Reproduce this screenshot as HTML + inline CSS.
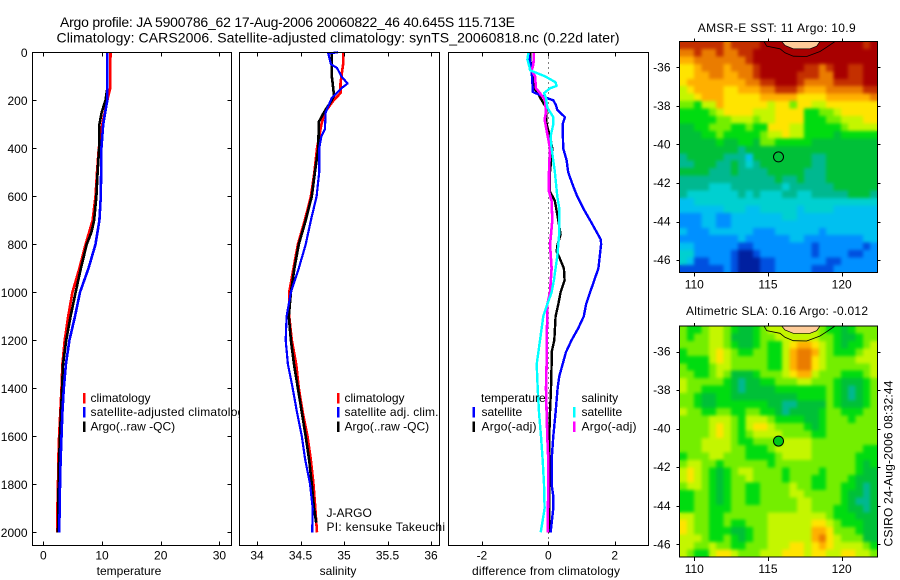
<!DOCTYPE html>
<html lang="en">
<head>
<meta charset="utf-8">
<title>Argo profile</title>
<style>
html,body{margin:0;padding:0;background:#fff;width:900px;height:580px;overflow:hidden}
svg{display:block}
text{font-family:"Liberation Sans",sans-serif;font-size:12px;fill:#000}
.t{font-size:14px}
.c{text-anchor:middle}
</style>
</head>
<body>
<svg id="chart" width="900" height="580" viewBox="0 0 900 580" xmlns="http://www.w3.org/2000/svg">
<defs>
<filter id="soften" x="0" y="0" width="100%" height="100%" color-interpolation-filters="sRGB">
<feGaussianBlur in="SourceGraphic" stdDeviation="1.7" result="b"/>
<feMerge><feMergeNode in="SourceGraphic"/><feMergeNode in="b"/></feMerge>
</filter>
</defs>
<rect x="0" y="0" width="900" height="580" fill="#fff"/>
<text class="t" x="60" y="27" textLength="455">Argo profile: JA 5900786_62 17-Aug-2006 20060822_46 40.645S 115.713E</text>
<text class="t" x="56.5" y="42.5" textLength="563">Climatology: CARS2006. Satellite-adjusted climatology: synTS_20060818.nc (0.22d later)</text>
<g id="p1"></g>
<g>
<rect x="83" y="393" width="2.5" height="10.5" fill="#f00"/>
<rect x="83" y="407" width="2.5" height="10.5" fill="#00f"/>
<rect x="83" y="421.5" width="2.5" height="10.5" fill="#000"/>
<text x="90.5" y="402">climatology</text>
<text x="90.5" y="416" textLength="160">satellite-adjusted climatology</text>
<text x="90.5" y="430.5">Argo(..raw -QC)</text>
</g>
<g id="p2"></g>
<g>
<rect x="337" y="393" width="2.5" height="10.5" fill="#f00"/>
<rect x="337" y="407" width="2.5" height="10.5" fill="#00f"/>
<rect x="337" y="421.5" width="2.5" height="10.5" fill="#000"/>
<text x="344.5" y="402">climatology</text>
<text x="344.5" y="416" textLength="94">satellite adj. clim.</text>
<text x="344.5" y="430.5">Argo(..raw -QC)</text>
<text x="326.5" y="517">J-ARGO</text>
<text x="326.5" y="531" textLength="118.5">PI: kensuke Takeuchi</text>
</g>
<g id="p3"></g>
<g>
<rect x="472.5" y="407" width="2.5" height="10.5" fill="#00f"/>
<rect x="472.5" y="421.5" width="2.5" height="10.5" fill="#000"/>
<rect x="573" y="407" width="2.5" height="10.5" fill="#0ff"/>
<rect x="573" y="421.5" width="2.5" height="10.5" fill="#f0f"/>
<text x="481" y="402">temperature</text>
<text x="481.5" y="416">satellite</text>
<text x="481.5" y="430.5" textLength="55">Argo(-adj)</text>
<text x="581.5" y="402">salinity</text>
<text x="581.5" y="416">satellite</text>
<text x="581.5" y="430.5" textLength="55">Argo(-adj)</text>
</g>
<text class="c" x="129" y="575">temperature</text>
<text class="c" x="338" y="575">salinity</text>
<text class="c" x="546" y="575" textLength="148">difference from climatology</text>
<text class="c" x="776.7" y="32" textLength="158">AMSR-E SST: 11 Argo: 10.9</text>
<text class="c" x="777" y="315" textLength="182">Altimetric SLA: 0.16 Argo: -0.012</text>
<g id="m1"></g>
<g id="m2"></g>
<text transform="translate(892.5,546.5) rotate(-90)" textLength="166">CSIRO 24-Aug-2006 08:32:44</text>
</svg>
<script>
const depthTicks = [0,200,400,600,800,1000,1200,1400,1600,1800,2000];
const tempTicks = [0,10,20,30];
const salTicks = [34,34.5,35,35.5,36];
const diffTicks = [-2,0,2];
const lonTicks = [110,115,120];
const latTicks = [-36,-38,-40,-42,-44,-46];

const tempClimDepth = [0,150,200,300,400,500,600,700,800,900,1000,1100,1200,1300,1400,1500,1600,1700,1800,1900,2000];
const tempClim = [11.45,11.4,10.9,10.05,9.45,9.15,8.9,8.4,7.2,6.15,4.95,4.25,3.65,3.25,3.1,2.9,2.7,2.55,2.5,2.4,2.4];
const tempArgoDepth = [0,150,200,250,300,400,500,600,700,750,800,900,1000,1100,1200,1300,1400,1500,1600,1700,1800,1900,2000];
const tempArgo = [10.9,10.9,10.6,9.95,9.55,9.5,9.25,9.05,8.65,8.2,7.4,6.4,5.5,4.65,3.9,3.35,3.2,3,2.85,2.7,2.6,2.55,2.5];
const tempSatDepth = [0,150,200,250,300,400,500,600,700,800,900,1000,1100,1200,1300,1400,1500,1600,1700,1800,1900,2000];
const tempSat = [10.9,10.9,10.9,10.55,10.2,9.9,9.85,9.8,9.55,8.9,7.7,6.25,5.4,4.45,3.85,3.5,3.25,3.1,2.95,2.85,2.8,2.7];

const salClimDepth = [0,50,100,130,170,200,250,300,400,500,600,700,800,900,1000,1100,1200,1300,1400,1500,1600,1700,1800,1900,2000];
const salClim = [34.99,34.99,34.97,34.96,34.96,34.88,34.78,34.74,34.69,34.66,34.62,34.55,34.47,34.42,34.37,34.37,34.4,34.45,34.48,34.525,34.58,34.62,34.65,34.67,34.69];
const salArgoDepth = [0,100,130,180,200,250,290,400,500,600,700,800,900,1000,1100,1200,1300,1400,1500,1600,1700,1800,1900,1960];
const salArgo = [34.86,34.86,34.87,34.885,34.86,34.77,34.71,34.705,34.665,34.63,34.56,34.48,34.43,34.39,34.365,34.39,34.425,34.47,34.515,34.56,34.6,34.63,34.655,34.68];
const salSatDepth = [0,5,50,65,100,130,150,190,250,320,350,400,500,600,700,800,900,1000,1100,1200,1300,1400,1500,1600,1700,1800,1900,2000];
const salSat = [34.93,34.82,34.85,34.92,34.97,35.04,34.97,34.86,34.79,34.78,34.74,34.715,34.715,34.685,34.62,34.56,34.48,34.39,34.34,34.33,34.355,34.41,34.46,34.515,34.555,34.61,34.64,34.635];

const diffTempSatDepth = [0,50,100,150,165,190,200,220,240,270,300,400,450,500,550,600,650,700,750,780,800,900,1000,1050,1100,1150,1200,1250,1300,1350,1400,1500,1600,1700,1800,1850,1900,2000];
const diffTempSat = [-.6,-.53,-.49,-.47,-.47,-.05,.15,.23,.27,.5,.43,.45,.55,.6,.73,.87,1.05,1.26,1.46,1.58,1.59,1.51,1.26,1.14,1.07,.9,.7,.53,.43,.33,.28,.22,.15,.1,.1,.15,.15,.07];
const diffTempArgoDepth = [0,50,100,150,170,200,230,300,350,400,500,580,620,700,760,800,830,860,900,950,1000,1050,1100,1200,1250,1300,1400,1500,1600,2000];
const diffTempArgo = [-.55,-.53,-.47,-.43,-.32,-.2,-.07,-.05,.05,.12,.05,.05,.2,.3,.37,.28,.25,.35,.47,.49,.37,.3,.22,.18,.1,.1,.08,.05,.03,.03];
const diffSalSatDepth = [0,30,60,75,100,125,140,150,170,190,230,270,300,350,400,500,600,650,750,850,950,1000,1050,1100,1200,1300,1400,1500,1600,1700,1800,1900,1950,2000];
const diffSalSat = [-.6,-.63,-.57,-.55,-.1,.22,.25,.05,-.13,-.07,-.03,.15,.15,.07,.1,.2,.27,.33,.33,.27,.17,.1,-.03,-.15,-.25,-.35,-.32,-.28,-.22,-.17,-.13,-.11,-.17,-.23];
const diffSalArgoDepth = [0,50,75,100,150,170,200,250,280,340,400,500,580,620,700,760,800,900,1000,1050,1100,1200,1300,1400,1500,1600,1700,1800,2000];
const diffSalArgo = [-.43,-.45,-.5,-.4,-.37,-.25,-.1,-.07,-.11,-.03,.05,.02,.02,.1,.12,.08,.05,.1,.05,-.03,-.03,-.05,-.05,-.07,-.05,-.03,0,0,-.02];

const markerLon = 115.713;
const markerLat = -40.645;

const sstGrid = [
[13,13,13,13,13,13,12,13,13,13,13,14,14,14,14,14,14,14,14,14,14,14,14,14,14,13,14],
[12,12,13,12,12,13,12,12,13,13,14,14,14,14,14,14,14,14,14,14,14,14,14,14,14,14,14],
[11,11,12,12,12,12,12,12,12,13,14,14,14,14,14,14,14,14,14,14,14,14,14,14,14,14,14],
[10,10,11,12,12,12,11,12,12,12,13,14,14,14,14,14,14,13,13,12,13,14,14,13,13,14,14],
[10,10,11,11,12,12,11,11,12,12,13,14,14,14,14,14,13,13,13,12,12,14,14,13,13,14,14],
[10,11,11,11,11,11,11,11,11,12,12,13,13,14,14,14,13,12,12,12,12,13,13,13,13,14,14],
[9,10,11,11,11,11,10,10,11,11,11,12,12,13,13,13,12,11,11,11,12,12,12,12,12,13,13],
[9,9,10,11,11,11,10,10,10,10,10,11,11,11,11,11,10,10,10,10,11,11,11,11,11,11,12],
[8,8,7,9,9,11,10,10,10,10,10,10,9,10,10,8,10,10,9,9,10,10,10,10,10,10,10],
[7,7,7,7,8,9,10,10,10,10,9,9,9,10,10,10,10,7,7,8,8,9,10,10,10,10,10],
[7,7,7,7,7,8,8,9,9,9,8,9,9,10,10,10,10,7,7,7,8,8,9,9,9,10,10],
[6,6,7,7,8,8,8,7,7,8,7,7,10,10,10,9,9,7,7,7,7,7,8,9,9,9,9],
[6,6,6,7,7,8,7,7,7,7,7,8,9,9,10,9,9,7,7,7,7,6,7,7,7,7,7],
[6,6,6,6,6,7,6,6,7,7,6,8,8,7,7,7,7,7,6,6,6,6,6,6,6,6,6],
[6,6,6,6,6,6,6,6,5,6,6,6,6,6,6,6,6,6,6,6,6,6,6,6,6,6,6],
[5,6,6,6,6,6,5,5,5,3,6,6,6,6,6,6,6,6,5,5,6,6,6,6,6,6,6],
[5,5,6,6,6,5,5,6,5,4,5,6,6,6,6,6,6,6,5,5,6,6,6,6,6,6,6],
[6,6,6,6,5,5,5,6,5,5,5,5,6,6,6,6,6,5,5,5,6,6,6,6,6,6,6],
[5,5,5,5,5,5,5,5,5,5,5,5,5,6,5,5,6,5,5,5,6,6,6,6,6,6,6],
[5,5,5,5,4,4,4,5,5,5,5,5,5,5,4,5,5,5,5,5,5,6,6,6,6,6,6],
[5,4,4,4,4,4,4,4,5,4,5,4,4,4,5,5,4,4,5,5,5,5,5,6,6,6,5],
[3,3,4,4,4,4,4,4,4,4,4,4,4,4,4,4,4,4,4,4,4,4,4,4,4,4,4],
[3,3,3,3,3,3,4,4,4,3,3,4,4,4,4,4,3,4,4,4,4,3,3,3,3,3,3],
[2,2,2,3,3,2,2,3,3,3,3,3,3,3,4,4,3,3,3,3,3,3,3,3,3,3,3],
[2,2,2,3,3,2,2,3,3,3,3,3,3,3,3,3,3,3,3,3,3,3,3,3,3,3,3],
[3,2,2,2,3,3,3,3,3,3,2,2,2,3,3,3,3,3,3,2,3,3,3,3,3,3,3],
[2,2,2,2,2,2,2,2,3,2,2,2,2,2,2,3,3,2,2,2,2,2,2,2,2,3,3],
[3,3,2,2,2,2,2,2,1,1,2,2,2,2,2,2,2,2,1,2,2,2,2,2,2,1,2],
[4,4,2,2,2,2,2,1,0,0,1,2,2,2,2,2,2,2,1,2,2,2,2,1,1,2,2],
[4,3,1,1,2,2,2,1,0,0,0,1,1,2,2,2,2,2,2,2,1,1,2,2,2,2,2],
[1,1,1,1,1,1,2,1,0,0,0,1,1,2,2,2,2,2,1,1,1,2,2,2,2,2,2]
];
const slaGrid = [
[8,7,7,8,9,9,8,7,6,6,7,8,9,9,9,9,9,9,9,8,7,7,6,7,8,8,8],
[8,7,8,8,9,9,8,6,6,6,7,8,8,9,9,9,9,9,9,8,8,7,6,6,7,8,8],
[8,8,8,8,9,9,8,7,6,6,7,8,7,7,9,10,11,11,10,9,8,7,6,7,7,8,9],
[7,8,8,8,9,10,9,8,7,7,8,8,7,7,9,11,12,12,11,9,8,7,7,7,8,9,9],
[7,7,7,7,9,10,9,8,8,8,8,8,7,7,9,11,12,12,10,9,8,8,8,8,9,9,9],
[8,7,7,7,8,9,9,8,8,8,8,8,7,7,9,11,12,12,10,9,8,8,8,8,8,8,9],
[8,8,7,7,8,9,8,6,6,6,7,8,8,8,9,10,11,11,9,8,8,8,7,7,7,8,9],
[9,8,8,8,8,8,7,6,5,6,6,7,7,8,8,8,9,9,8,8,8,7,6,6,6,7,8],
[9,8,8,7,7,7,7,6,5,6,6,6,6,7,7,7,7,7,7,7,8,7,6,5,6,7,8],
[8,8,7,6,6,7,7,6,6,6,6,6,6,6,6,6,7,7,7,7,8,7,6,5,6,7,8],
[8,8,7,6,6,7,7,7,7,7,7,7,6,6,5,5,6,6,6,6,8,7,6,6,6,7,8],
[9,8,8,7,7,8,8,7,7,8,8,7,7,6,5,6,6,6,6,7,8,8,7,7,7,8,8],
[8,8,8,8,9,9,9,8,7,9,9,9,8,7,7,7,7,6,6,7,8,8,8,7,8,8,8],
[8,8,8,8,9,10,9,8,7,9,10,10,9,8,8,8,8,7,6,7,8,8,8,8,8,8,8],
[8,8,8,8,9,10,9,8,7,8,9,9,9,9,8,8,8,8,7,7,8,8,8,8,8,8,8],
[8,8,8,9,9,9,9,8,7,7,8,8,8,7,9,9,9,9,8,8,8,8,8,8,8,8,8],
[8,8,8,9,9,9,9,8,8,7,7,7,8,9,9,9,9,9,8,8,8,8,8,8,8,7,7],
[7,8,8,8,9,9,8,8,8,7,7,7,7,8,9,9,9,9,8,8,8,8,8,8,7,7,7],
[8,9,9,8,8,7,8,8,8,8,8,8,7,8,8,8,8,8,8,8,8,8,8,8,7,6,7],
[9,10,9,8,7,6,7,8,9,9,8,8,8,8,7,8,8,8,8,7,8,8,8,8,7,6,6],
[9,10,9,8,7,6,7,8,8,9,8,8,8,8,7,8,8,8,7,7,8,8,8,7,6,6,6],
[8,9,9,8,7,6,7,8,8,7,7,8,8,8,8,9,8,8,7,7,8,8,7,7,6,5,6],
[7,7,8,8,7,6,7,8,8,7,7,8,8,8,8,9,9,8,8,8,8,8,7,6,6,5,6],
[7,7,8,8,7,6,7,8,8,7,7,8,8,8,8,8,9,9,8,8,8,8,7,6,5,5,6],
[7,7,8,8,7,7,7,8,8,8,8,8,8,8,8,8,9,9,8,8,8,7,7,6,6,5,6],
[9,9,8,8,7,7,8,8,8,8,8,8,9,9,9,9,9,9,9,9,8,7,7,7,6,6,6],
[10,9,8,8,7,7,8,7,7,8,8,8,9,9,9,9,9,9,10,10,9,8,7,7,7,6,6],
[10,9,8,8,7,7,7,6,6,7,8,8,9,9,9,9,9,9,11,11,10,8,8,8,7,6,6],
[9,9,9,8,7,7,8,7,6,7,8,8,9,9,9,9,9,9,11,12,10,9,8,8,8,6,6],
[9,9,8,8,9,8,8,7,7,8,8,8,9,9,9,10,10,9,10,11,10,9,9,9,9,8,7],
[9,8,7,7,9,10,10,9,8,8,8,9,9,9,10,10,10,9,10,10,9,9,10,10,9,9,8]
];
const colormap = ['#0020a0','#0050e0','#0090ff','#00c0f0','#00d0d0','#00b890','#00c038','#00dc10','#74ee00','#c4f600','#ffe400','#ffb000','#ea7c00','#c43000','#a80000'];

const NS = 'http://www.w3.org/2000/svg';
function mk(tag, parent, props) {
  const el = document.createElementNS(NS, tag);
  for (const k in props) el.setAttribute(k, props[k]);
  parent.appendChild(el);
  return el;
}
const depthY = d => 52.3 + 0.24 * d;
const panels = [
  {g:'p1', name:'temperature', left:32.5, right:231.5, x:v => 43.3 + 5.87 * v, ticks:tempTicks, yTicks:true},
  {g:'p2', name:'salinity', left:239.5, right:439.5, x:v => 257 + 87 * (v - 34), ticks:salTicks, yTicks:false},
  {g:'p3', name:'difference', left:448.5, right:648.5, x:v => 548.3 + 33.2 * v, ticks:diffTicks, yTicks:false}
];
const TOP = 52.5, BOTTOM = 545.5;

function drawSeries(g, x, depths, values, color, width, name) {
  const pts = depths.map((d, i) => x(values[i]).toFixed(1) + ',' + depthY(d).toFixed(1)).join(' ');
  const line = mk('polyline', g, {points:pts, fill:'none', stroke:color, 'stroke-width':width, 'shape-rendering':'crispEdges', 'stroke-linejoin':'round'});
  
  
}

panels.forEach(p => {
  const g = document.getElementById(p.g);
  const bg = mk('rect', g, {x:p.left, y:TOP, width:p.right - p.left, height:BOTTOM - TOP, fill:'#fff'});
  
  
});

const p1 = document.getElementById('p1');
const p2 = document.getElementById('p2');
const p3 = document.getElementById('p3');

drawSeries(p1, panels[0].x, tempClimDepth, tempClim, '#f00', 2.6, 'temperature-climatology-line');
drawSeries(p1, panels[0].x, tempArgoDepth, tempArgo, '#000', 2.6, 'temperature-argo-line');
drawSeries(p1, panels[0].x, tempSatDepth, tempSat, '#00f', 2.6, 'temperature-satellite-line');

drawSeries(p2, panels[1].x, salClimDepth, salClim, '#f00', 2.6, 'salinity-climatology-line');
drawSeries(p2, panels[1].x, salArgoDepth, salArgo, '#000', 2.6, 'salinity-argo-line');
drawSeries(p2, panels[1].x, salSatDepth, salSat, '#00f', 2.2, 'salinity-satellite-line');

const zero = mk('line', p3, {x1:panels[2].x(0), x2:panels[2].x(0), y1:TOP, y2:BOTTOM, stroke:'#000', 'stroke-width':1, 'stroke-dasharray':'1 4', 'shape-rendering':'crispEdges'});


drawSeries(p3, panels[2].x, diffTempArgoDepth, diffTempArgo, '#000', 2.4, 'temperature-argo-difference-line');
drawSeries(p3, panels[2].x, diffTempSatDepth, diffTempSat, '#00f', 2.4, 'temperature-satellite-difference-line');
drawSeries(p3, panels[2].x, diffSalArgoDepth, diffSalArgo, '#f0f', 2.6, 'salinity-argo-difference-line');
drawSeries(p3, panels[2].x, diffSalSatDepth, diffSalSat, '#0ff', 2.4, 'salinity-satellite-difference-line');

panels.forEach(p => {
  const g = document.getElementById(p.g);
  const frame = mk('rect', g, {x:p.left, y:TOP, width:p.right - p.left, height:BOTTOM - TOP, fill:'none', stroke:'#000', 'stroke-width':1, 'shape-rendering':'crispEdges'});
  
  
  p.ticks.forEach(v => {
    const tx = Math.round(p.x(v)) + 0.5;
    const t1 = mk('line', g, {x1:tx, x2:tx, y1:TOP, y2:TOP + 4, stroke:'#000', 'shape-rendering':'crispEdges'});
    
    
    const t2 = mk('line', g, {x1:tx, x2:tx, y1:BOTTOM, y2:BOTTOM - 4, stroke:'#000', 'shape-rendering':'crispEdges'});
    
    
    const lab = mk('text', g, {x:p.x(v), y:559.5, 'text-anchor':'middle'});
    lab.textContent = String(v);
    
    
  });
  if (p.yTicks) {
    depthTicks.forEach(d => {
      const ty = Math.round(depthY(d)) + 0.5;
      const t1 = mk('line', g, {x1:p.left, x2:p.left + 4, y1:ty, y2:ty, stroke:'#000', 'shape-rendering':'crispEdges'});
      
      
      const t2 = mk('line', g, {x1:p.right, x2:p.right - 4, y1:ty, y2:ty, stroke:'#000', 'shape-rendering':'crispEdges'});
      
      
      const lab = mk('text', g, {x:27.5, y:depthY(d) + 4.5, 'text-anchor':'end'});
      lab.textContent = String(d);
      
      
    });
  }
});

const mapX = lon => 694.3 + 14.74 * (lon - 110);
const LEFT_M = 679.5, RIGHT_M = 877.5;
function drawMap(id, grid, top, bottom, lat36Y, prefix, markerFill) {
  const g = document.getElementById(id);
  const mapY = lat => lat36Y + 19.29 * (-36 - lat);
  const rows = grid.length;
  const cw = (RIGHT_M - LEFT_M) / grid[0].length;
  const ch = (bottom - top) / rows;
  const cells = mk('g', g, {filter:'url(#soften)'});
  
  
  grid.forEach((row, r) => row.forEach((v, c) => {
    const cell = mk('rect', cells, {x:(LEFT_M + c * cw).toFixed(2), y:(top + r * ch).toFixed(2), width:(cw + (c < row.length - 1 ? 0.4 : 0)).toFixed(2), height:(ch + (r < rows - 1 ? 0.4 : 0)).toFixed(2), fill:colormap[v], 'shape-rendering':'crispEdges'});
    
    
  }));
  const dy = top - 41;
  const land = mk('polygon', g, {points:[[781.7,41],[785,45],[793.3,48.3],[810,48.3],[816.7,45.7],[820,41]].map(a => a[0] + ',' + (a[1] + dy)).join(' '), fill:'#ffcc99', stroke:'#000', 'stroke-width':0.7});
  
  
  const coast = mk('polyline', g, {points:[[764,41],[766.7,45.7],[780,48.3],[785,52.3],[793.3,55.7],[806.7,56],[820,51],[826.7,46.7],[835,41]].map(a => a[0] + ',' + (a[1] + dy)).join(' '), fill:'none', stroke:'#000', 'stroke-width':0.8});
  
  
  const frame = mk('rect', g, {x:LEFT_M, y:top, width:RIGHT_M - LEFT_M, height:bottom - top, fill:'none', stroke:'#000', 'shape-rendering':'crispEdges'});
  
  
  lonTicks.forEach(lon => {
    const tx = Math.round(mapX(lon)) + 0.5;
    const t1 = mk('line', g, {x1:tx, x2:tx, y1:top, y2:top - 3, stroke:'#000', 'shape-rendering':'crispEdges'});
    
    
    const t2 = mk('line', g, {x1:tx, x2:tx, y1:bottom, y2:bottom + 4, stroke:'#000', 'shape-rendering':'crispEdges'});
    
    
    const lab = mk('text', g, {x:mapX(lon), y:bottom + 16, 'text-anchor':'middle'});
    lab.textContent = String(lon);
    
    
  });
  latTicks.forEach(lat => {
    const ty = Math.round(mapY(lat)) + 0.5;
    const t1 = mk('line', g, {x1:LEFT_M, x2:LEFT_M - 3, y1:ty, y2:ty, stroke:'#000', 'shape-rendering':'crispEdges'});
    
    
    const t2 = mk('line', g, {x1:RIGHT_M, x2:RIGHT_M + 3, y1:ty, y2:ty, stroke:'#000', 'shape-rendering':'crispEdges'});
    
    
    const lab = mk('text', g, {x:670.5, y:mapY(lat) + 4, 'text-anchor':'end'});
    lab.textContent = String(lat);
    
    
  });
  const mk2 = mk('circle', g, {cx:mapX(markerLon), cy:mapY(markerLat), r:5, fill:markerFill, stroke:'#000', 'stroke-width':1});
  
  
}
drawMap('m1', sstGrid, 41.5, 272.5, 67.3, 'sst-map', 'none');
drawMap('m2', slaGrid, 326, 557, 351.5, 'sla-map', '#00c818');
</script>
</body>
</html>
